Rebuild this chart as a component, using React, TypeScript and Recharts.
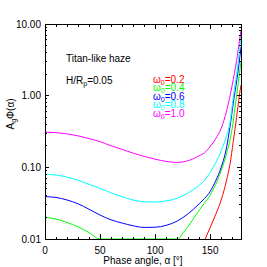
import { Line, LineChart, ReferenceArea, XAxis, YAxis } from "recharts";

const FONT = '"Liberation Sans", Arial, Helvetica, sans-serif';

// plot box (IDL style: ticks on all four sides, pointing inward)
const CHART_W = 267;
const CHART_H = 267;
const MARGIN = { top: 24, right: 26, bottom: 0, left: 0 };
const Y_AXIS_W = 45;
const X_AXIS_H = 28;
const PLOT_W = CHART_W - MARGIN.left - MARGIN.right - Y_AXIS_W;
const PLOT_H = CHART_H - MARGIN.top - MARGIN.bottom - X_AXIS_H;

// axis ticks
const angleTicks = [0, 10, 20, 30, 40, 50, 60, 70, 80, 90, 100, 110, 120, 130, 140, 150, 160, 170];
const angleMajor = [0, 50, 100, 150];
const fluxTicks = [
  0.01, 0.02, 0.03, 0.04, 0.05, 0.06, 0.07, 0.08, 0.09,
  0.1, 0.2, 0.3, 0.4, 0.5, 0.6, 0.7, 0.8, 0.9,
  1, 2, 3, 4, 5, 6, 7, 8, 9, 10,
];
const fluxMajor = [0.01, 0.1, 1, 10];

// omega0 = 1.0
const magentaAngles = [0, 10, 20, 30, 40, 50, 60, 70, 80, 90, 100, 110, 120, 130, 140, 145, 150, 155, 160, 165, 170, 174, 178];
const magentaValues = [0.31, 0.305, 0.293, 0.275, 0.252, 0.228, 0.2, 0.178, 0.158, 0.142, 0.13, 0.121, 0.117, 0.124, 0.145, 0.16, 0.195, 0.25, 0.35, 0.62, 1.4, 3.1, 8.3];

// omega0 = 0.8
const cyanAngles = [0, 10, 20, 30, 40, 50, 60, 70, 80, 90, 100, 110, 120, 130, 140, 145, 150, 155, 160, 165, 168, 171, 175, 178];
const cyanValues = [0.08, 0.078, 0.073, 0.066, 0.058, 0.051, 0.044, 0.039, 0.035, 0.033, 0.0328, 0.034, 0.037, 0.044, 0.056, 0.066, 0.085, 0.115, 0.17, 0.28, 0.42, 0.95, 2.6, 6.6];

// omega0 = 0.6
const blueAngles = [0, 10, 20, 30, 40, 50, 60, 70, 80, 90, 100, 110, 120, 130, 140, 145, 150, 155, 160, 165, 168, 172, 175, 178];
const blueValues = [0.039, 0.038, 0.035, 0.031, 0.026, 0.0216, 0.0185, 0.0167, 0.0153, 0.0145, 0.0146, 0.0155, 0.0178, 0.0225, 0.031, 0.037, 0.046, 0.065, 0.1, 0.194, 0.37, 1.0, 2.0, 4.8];

// omega0 = 0.4 (drops below the axis between ~50 and ~121)
const greenAngles = [0, 10, 20, 30, 40, 50, 121, 125, 130, 137, 145, 150, 155, 160, 165, 170, 174, 178];
const greenValues = [0.02, 0.019, 0.017, 0.0148, 0.0123, 0.01, 0.01, 0.012, 0.015, 0.0216, 0.032, 0.041, 0.058, 0.09, 0.157, 0.35, 1.0, 3.0];

// omega0 = 0.2
const redAngles = [145.5, 150, 155, 160, 165, 168, 171, 174, 176.5, 178];
const redValues = [0.01, 0.0145, 0.022, 0.035, 0.067, 0.11, 0.23, 0.5, 1.0, 1.41];

const omegaLabels = ["0.2", "0.4", "0.6", "0.8", "1.0"];

const toPoints = (angles: number[], values: number[]) =>
  angles.map((a, i) => ({ a, v: values[i] }));

const series = [
  { name: "0.2", color: "#ff0000", data: toPoints(redAngles, redValues) },
  { name: "0.4", color: "#00ff00", data: toPoints(greenAngles, greenValues) },
  { name: "0.6", color: "#0000ff", data: toPoints(blueAngles, blueValues) },
  { name: "0.8", color: "#00ffff", data: toPoints(cyanAngles, cyanValues) },
  { name: "1.0", color: "#ff00ff", data: toPoints(magentaAngles, magentaValues) },
];

// draws the tick on its own side and the mirrored one on the opposite side
function AxisTick(props: any) {
  const { x, y, payload, side } = props as { x: number; y: number; payload: { value: number }; side: "bottom" | "left" };
  const v = payload.value;

  if (side === "bottom") {
    const major = angleMajor.includes(v);
    const len = major ? 5 : 2.5;
    const top = y - PLOT_H;
    return (
      <g shapeRendering="crispEdges">
        <line x1={x} y1={y} x2={x} y2={y - len} stroke="#000" />
        <line x1={x} y1={top} x2={x} y2={top + len} stroke="#000" />
        {major && (
          <text x={x} y={y + 14.5} textAnchor="middle" fontSize={10} fontFamily={FONT} fill="#000">
            {v}
          </text>
        )}
      </g>
    );
  }

  const major = fluxMajor.some((m) => Math.abs(m - v) < 1e-9);
  const len = major ? 4 : 2;
  const right = x + PLOT_W;
  return (
    <g shapeRendering="crispEdges">
      <line x1={x} y1={y} x2={x + len} y2={y} stroke="#000" />
      <line x1={right} y1={y} x2={right - len} y2={y} stroke="#000" />
      {major && (
        <text x={x - 4} y={y + 3.5} textAnchor="end" fontSize={10} fontFamily={FONT} fill="#000">
          {v.toFixed(2)}
        </text>
      )}
    </g>
  );
}

export default function App() {
  return (
    <div style={{ position: "absolute", left: 0, top: 0, width: CHART_W, height: CHART_H, background: "#fff" }}>
      <LineChart width={CHART_W} height={CHART_H} margin={MARGIN}>
        <XAxis
          xAxisId="x"
          dataKey="a"
          type="number"
          domain={[0, 178]}
          allowDataOverflow
          ticks={angleTicks}
          interval={0}
          height={X_AXIS_H}
          tickSize={0}
          tickMargin={0}
          tickLine={false}
          axisLine={{ stroke: "#000", shapeRendering: "crispEdges" }}
          tick={(p: any) => <AxisTick {...p} side="bottom" />}
        />
        <YAxis
          yAxisId="y"
          scale="log"
          type="number"
          domain={[0.01, 10]}
          allowDataOverflow
          ticks={fluxTicks}
          interval={0}
          width={Y_AXIS_W}
          tickSize={0}
          tickMargin={0}
          tickLine={false}
          axisLine={{ stroke: "#000", shapeRendering: "crispEdges" }}
          tick={(p: any) => <AxisTick {...p} side="left" />}
        />
        <ReferenceArea
          xAxisId="x"
          yAxisId="y"
          x1={0}
          x2={178}
          y1={0.01}
          y2={10}
          ifOverflow="visible"
          fill="none"
          fillOpacity={0}
          stroke="#000"
          strokeWidth={1}
          shapeRendering="crispEdges"
        />
        {series.map((s) => (
          <Line
            key={s.name}
            xAxisId="x"
            yAxisId="y"
            data={s.data}
            dataKey="v"
            type="monotone"
            stroke={s.color}
            strokeWidth={1}
            dot={false}
            isAnimationActive={false}
          />
        ))}
      </LineChart>
      <svg
        width={CHART_W}
        height={CHART_H}
        style={{ position: "absolute", left: 0, top: 0, pointerEvents: "none" }}
        fontFamily={FONT}
        fontSize={10}
      >
        <text x={66} y={61.5} fill="#000">Titan-like haze</text>
        <text x={66} y={83.5} fill="#000">
          H/R<tspan fontSize={7} dy={2}>p</tspan>
          <tspan dy={-2}>=0.05</tspan>
        </text>
        {omegaLabels.map((lab, i) => (
          <text key={lab} x={153} y={82.5 + i * 8.6} fill={series[i].color}>
            ω<tspan fontSize={7} dy={2}>0</tspan>
            <tspan dy={-2}>={lab}</tspan>
          </text>
        ))}
        <text x={143} y={263.5} textAnchor="middle" fill="#000">
          Phase angle, α [°]
        </text>
        <text x={10} y={114} dy={3.5} textAnchor="middle" fill="#000" transform="rotate(-90, 10, 114)">
          A<tspan fontSize={7} dy={2}>g</tspan>
          <tspan dy={-2}>Φ(α)</tspan>
        </text>
      </svg>
    </div>
  );
}
